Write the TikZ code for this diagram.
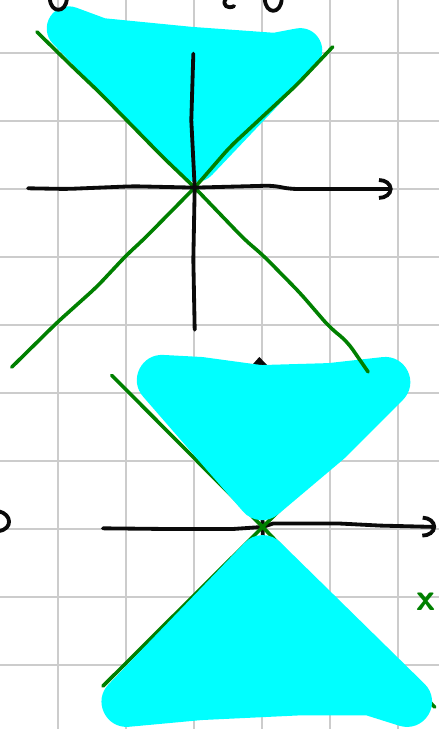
\documentclass[tikz,border=0pt]{standalone}
\usepackage{xcolor}
\usepackage{tikz}
\usetikzlibrary{arrows.meta}
\definecolor{rejilla}{HTML}{CCCCCC}
\definecolor{cono}{HTML}{00FFFF}
\definecolor{luz}{HTML}{008000}
\definecolor{tinta}{HTML}{0A0A0A}

\begin{document}
\begin{tikzpicture}[
    malla/.style={draw=rejilla,line width=0.8pt},
    eje/.style={draw=tinta,line width=1.6pt,line cap=round,line join=round},
    rayo/.style={draw=luz,line width=1.5pt,line cap=round,line join=round},
    mancha/.style={fill=cono,draw=cono,line join=round},
    >={Arc Barb[length=0.2cm,width=0.32cm]}]
  \path[use as bounding box] (-2.853,-7.941) rectangle (3.603,2.779);
  \clip (-2.853,-7.941) rectangle (3.603,2.779);
  \draw[malla] (-2.853,-7.941) grid (3.603,2.779);
  % origenes de los dos conos
  \coordinate (o1) at (0.01,0.02);
  \coordinate (o2) at (1.01,-4.97);
  % cono de abajo: ejes y rayos bajo la mancha
  \draw[eje,-{Straight Barb[length=0.13cm,width=0.24cm]}] (1.01,-7.3) -- (o2) -- (0.96,-2.47);
  \draw[eje,->] (-1.34,-4.99) -- (-0.4,-5.0) -- (0.57,-5.0) -- (o2)
    -- (1.16,-4.92) -- (2.15,-4.92) -- (2.74,-4.95) -- (3.56,-4.97);
  \draw[rayo] (-1.21,-2.74) -- (o2) -- (3.54,-7.62);
  \draw[rayo] (-1.34,-7.31) -- (o2) -- (3.01,-2.99);
  % manchas
  \filldraw[mancha,line width=0.65cm] (-1.84,2.36) -- (-1.38,2.19) -- (-0.06,2.06)
    -- (1.19,1.97) -- (1.56,2.04) -- (0.03,0.43) -- cycle;
  \filldraw[mancha,line width=0.74cm] (-0.47,-2.81) -- (0.09,-2.84) -- (0.97,-2.96)
    -- (2.0,-2.93) -- (2.81,-2.84) -- (1.96,-3.69) -- (1.0,-4.5) -- cycle;
  \filldraw[mancha,line width=0.74cm] (1.01,-5.46) -- (3.13,-7.54) -- (2.59,-7.37)
    -- (1.56,-7.37) -- (0.09,-7.44) -- (-0.99,-7.54) -- cycle;
  % cono de arriba
  \draw[rayo,rounded corners=4pt] (-2.31,2.31) -- (-1.78,1.79) -- (-1.38,1.41)
    -- (-0.46,0.47) -- (o1) -- (0.75,-0.75) -- (1.01,-0.97) -- (1.56,-1.53)
    -- (2.0,-2.04) -- (2.25,-2.24) -- (2.56,-2.69);
  \draw[rayo,rounded corners=4pt] (2.04,2.09) -- (1.51,1.53) -- (0.53,0.62) -- (o1)
    -- (-0.75,-0.75) -- (-0.99,-0.97) -- (-1.43,-1.44) -- (-2.01,-1.96) -- (-2.68,-2.62);
  \draw[eje] (-0.01,1.99) -- (-0.04,1.01) -- (o1) -- (-0.01,-1.04) -- (0.01,-2.07);
  \draw[eje,->,rounded corners=3pt] (-2.44,0.01) -- (-1.87,0) -- (-0.9,0.04) -- (o1)
    -- (1.16,0.05) -- (1.41,0) -- (2.92,0);
  % trazos cortados en los bordes
  \draw[eje] (-2.12,2.8) .. controls (-2.11,2.58) and (-1.88,2.58) .. (-1.87,2.8);
  \draw[eje] (0.47,2.8) .. controls (0.40,2.70) and (0.50,2.64) .. (0.59,2.69);
  \draw[eje] (1.04,2.8) .. controls (1.05,2.56) and (1.28,2.56) .. (1.29,2.8);
  \draw[eje] (-2.87,-4.74) .. controls (-2.68,-4.78) and (-2.66,-5.0) .. (-2.87,-5.03);
  \node[text=luz,font=\fontsize{16}{16}\sffamily\bfseries,inner sep=0pt] (marca)
    at (3.41,-6.07) {x};
\end{tikzpicture}
\end{document}
